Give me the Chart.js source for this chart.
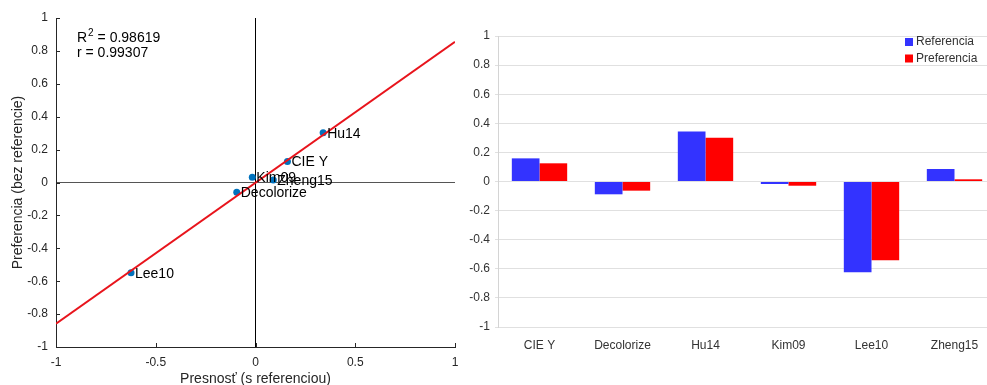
<!DOCTYPE html>
<html>
<head>
<meta charset="utf-8">
<script src="https://cdn.jsdelivr.net/npm/chart.js@4.4.1/dist/chart.umd.min.js"></script>
<style>
  html, body { margin: 0; padding: 0; background: #fff; width: 987px; height: 385px; overflow: hidden; }
  #wrap { position: relative; width: 987px; height: 385px; overflow: hidden; }
  canvas { position: absolute; top: 0; }
  #scatter { left: 0; }
  #bars { left: 458px; }
</style>
</head>
<body>
<div id="wrap">
  <canvas id="scatter" width="470" height="385"></canvas>
  <canvas id="bars" width="540" height="385"></canvas>
</div>
<script>
// Methods compared
const methods = ['CIE Y', 'Decolorize', 'Hu14', 'Kim09', 'Lee10', 'Zheng15'];

// Scatter: accuracy with reference (x) vs preference without reference (y)
const presnost    = [0.160, -0.094, 0.339, -0.016, -0.624, 0.089];
const preferencia = [0.128, -0.060, 0.302, 0.032, -0.549, 0.015];

// Linear fit drawn across the x range
const fitSlope = 0.857;
const fitIntercept = -0.002;
const fitRange = [-1, 1];
const fitR2 = '0.98619';
const fitR = '0.99307';

// Bar chart values per method
const barReferencia  = [0.159, -0.088, 0.343, -0.017, -0.624, 0.086];
const barPreferencia = [0.125, -0.063, 0.300, -0.029, -0.541, 0.015];

// Axis titles and legend entries
const xTitle = 'Presnosť (s referenciou)';
const yTitle = 'Preferencia (bez referencie)';
const seriesNames = ['Referencia', 'Preferencia'];

const FONT = "'Liberation Sans', Arial, Helvetica, sans-serif";
const AXIS_DARK = '#262626';

// Tick labels without trailing zeros: 1, 0.8, -0.5 ...
const fmtTick = v => String(Number(Number(v).toFixed(2)));

// ---------- Left: scatter with regression line ----------
const pointLabels = {
  id: 'pointLabels',
  afterDatasetsDraw(chart) {
    const ctx = chart.ctx;
    const meta = chart.getDatasetMeta(0);
    ctx.save();
    ctx.font = '14px ' + FONT;
    ctx.fillStyle = '#000';
    ctx.textAlign = 'left';
    ctx.textBaseline = 'middle';
    meta.data.forEach((el, i) => {
      ctx.fillText(methods[i], el.x + 4, el.y + 1);
    });
    ctx.restore();
  }
};

const inwardTicks = {
  id: 'inwardTicks',
  afterDraw(chart) {
    const ctx = chart.ctx;
    const xs = chart.scales.x, ys = chart.scales.y;
    const area = chart.chartArea;
    ctx.save();
    ctx.strokeStyle = AXIS_DARK;
    ctx.lineWidth = 1;
    ctx.beginPath();
    xs.ticks.forEach(t => {
      const px = Math.round(xs.getPixelForValue(t.value)) + 0.5;
      ctx.moveTo(px, area.bottom);
      ctx.lineTo(px, area.bottom - 4);
    });
    ys.ticks.forEach(t => {
      const py = Math.round(ys.getPixelForValue(t.value)) + 0.5;
      ctx.moveTo(area.left, py);
      ctx.lineTo(area.left + 4, py);
    });
    ctx.stroke();
    ctx.restore();
  }
};

const fitText = {
  id: 'fitText',
  afterDraw(chart) {
    const ctx = chart.ctx;
    const x0 = chart.chartArea.left + 21;
    const y0 = chart.chartArea.top + 24;
    ctx.save();
    ctx.fillStyle = '#000';
    ctx.textAlign = 'left';
    ctx.textBaseline = 'alphabetic';
    ctx.font = '14px ' + FONT;
    ctx.fillText('R', x0, y0);
    let x = x0 + ctx.measureText('R').width + 1;
    ctx.font = '10px ' + FONT;
    ctx.fillText('2', x, y0 - 6);
    x += ctx.measureText('2').width;
    ctx.font = '14px ' + FONT;
    ctx.fillText(' = ' + fitR2, x, y0);
    ctx.fillText('r = ' + fitR, x0, y0 + 15);
    ctx.restore();
  }
};

new Chart(document.getElementById('scatter'), {
  type: 'scatter',
  data: {
    datasets: [
      {
        label: 'methods',
        data: methods.map((m, i) => ({ x: presnost[i], y: preferencia[i] })),
        backgroundColor: '#0072bd',
        borderWidth: 0,
        pointRadius: 3.5,
        order: 2
      },
      {
        label: 'fit',
        data: fitRange.map(x => ({ x: x, y: fitSlope * x + fitIntercept })),
        showLine: true,
        borderColor: '#e8141c',
        borderWidth: 2,
        pointRadius: 0,
        fill: false,
        order: 1
      }
    ]
  },
  options: {
    responsive: false,
    animation: false,
    devicePixelRatio: 1,
    layout: { padding: { top: 18, right: 15, left: 0, bottom: 0 } },
    plugins: { legend: { display: false }, tooltip: { enabled: false } },
    scales: {
      x: {
        type: 'linear', min: -1, max: 1,
        ticks: { stepSize: 0.5, padding: 8, color: AXIS_DARK, font: { family: FONT, size: 12 }, callback: fmtTick },
        grid: {
          drawTicks: false,
          color: c => (c.tick && Math.abs(c.tick.value) < 1e-9) ? '#000' : 'rgba(0,0,0,0)'
        },
        border: { display: true, color: AXIS_DARK, width: 1 },
        title: { display: true, text: xTitle, color: AXIS_DARK, font: { family: FONT, size: 14, lineHeight: 1 }, padding: { top: 0, bottom: -1 } },
        afterFit: s => { s.height = 38; }
      },
      y: {
        type: 'linear', min: -1, max: 1,
        ticks: { stepSize: 0.2, padding: 8, color: AXIS_DARK, font: { family: FONT, size: 12 }, callback: fmtTick },
        grid: {
          drawTicks: false,
          color: c => (c.tick && Math.abs(c.tick.value) < 1e-9) ? '#555' : 'rgba(0,0,0,0)'
        },
        border: { display: true, color: AXIS_DARK, width: 1 },
        title: { display: true, text: yTitle, color: AXIS_DARK, font: { family: FONT, size: 14 }, padding: { top: 10, bottom: 0 } },
        afterFit: s => { s.width = 56; }
      }
    }
  },
  plugins: [inwardTicks, pointLabels, fitText]
});

// ---------- Right: grouped bar chart ----------
const barColors = ['#3333ff', '#ff0000'];

const cornerLegend = {
  id: 'cornerLegend',
  afterDraw(chart) {
    const ctx = chart.ctx;
    const bx = chart.chartArea.right - 91;
    const by = chart.chartArea.top + 6;
    ctx.save();
    ctx.font = '12px ' + FONT;
    ctx.textAlign = 'left';
    ctx.textBaseline = 'middle';
    seriesNames.forEach((name, i) => {
      const cy = by + i * 16.5;
      ctx.fillStyle = barColors[i];
      ctx.fillRect(bx, cy - 4, 8, 8);
      ctx.fillStyle = '#333';
      ctx.fillText(name, bx + 11, cy);
    });
    ctx.restore();
  }
};

new Chart(document.getElementById('bars'), {
  type: 'bar',
  data: {
    labels: methods,
    datasets: [
      { label: seriesNames[0], data: barReferencia, backgroundColor: barColors[0], borderWidth: 0 },
      { label: seriesNames[1], data: barPreferencia, backgroundColor: barColors[1], borderWidth: 0 }
    ]
  },
  options: {
    responsive: false,
    animation: false,
    devicePixelRatio: 1,
    layout: { padding: { top: 36, right: 2, left: 0, bottom: 0 } },
    datasets: { bar: { categoryPercentage: 0.667, barPercentage: 1.0 } },
    plugins: { legend: { display: false }, tooltip: { enabled: false } },
    scales: {
      x: {
        ticks: { padding: 3, color: '#333', font: { family: FONT, size: 12 }, maxRotation: 0 },
        grid: { display: false },
        border: { display: false },
        afterFit: s => { s.height = 58; }
      },
      y: {
        min: -1, max: 1,
        ticks: { stepSize: 0.2, padding: 5, color: '#333', font: { family: FONT, size: 12 }, callback: fmtTick },
        grid: { color: '#e0e0e0', lineWidth: 1, drawTicks: true, tickLength: 3 },
        border: { display: true, color: '#d4d4d4', width: 1 },
        afterFit: s => { s.width = 40; }
      }
    }
  },
  plugins: [cornerLegend]
});
</script>
</body>
</html>
